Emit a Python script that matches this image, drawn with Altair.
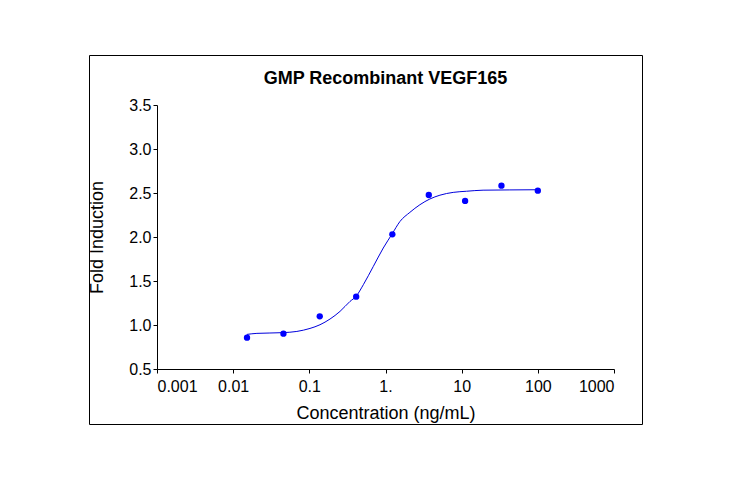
import math
import altair as alt
import pandas as pd

# Measured data points (3-fold dilution series)
conc = [0.0152, 0.0457, 0.137, 0.412, 1.23, 3.70, 11.1, 33.3, 100.0]
fold = [0.856, 0.901, 1.099, 1.322, 2.030, 2.477, 2.410, 2.583, 2.526]

# Fitted curve
curve_conc = [0.0151, 0.0205, 0.0449, 0.0686, 0.102, 0.138, 0.187, 0.253, 0.342,
              0.410, 0.512, 0.692, 0.935, 1.22, 1.55, 2.09, 2.83, 3.83, 5.18,
              7.74, 11.6, 19.1, 42.9, 100.0]
curve_fold = [0.893, 0.905, 0.913, 0.927, 0.961, 1.003, 1.068, 1.155, 1.268,
              1.325, 1.458, 1.666, 1.875, 2.034, 2.177, 2.280, 2.367, 2.432, 2.475,
              2.507, 2.520, 2.532, 2.535, 2.537]

x_ticks = [0.001, 0.01, 0.1, 1, 10, 100, 1000]
x_tick_labels = ["0.001", "0.01", "0.1", "1.", "10", "100", "1000"]
y_ticks = [0.5, 1.0, 1.5, 2.0, 2.5, 3.0, 3.5]

FONT = "Liberation Sans"

pts = pd.DataFrame({"conc": conc, "fold": fold})
crv = pd.DataFrame({"conc": curve_conc, "fold": curve_fold})

label_expr = " : ".join(
    f"abs(log(datum.value)/LN10-({math.log10(v)}))<0.01 ? '{lab}'"
    for v, lab in zip(x_ticks, x_tick_labels)
) + " : ''"

x_enc = alt.X(
    "conc:Q",
    scale=alt.Scale(type="log", domain=[0.001, 1000], nice=False),
    axis=alt.Axis(
        values=x_ticks,
        labelExpr=label_expr,
        title="Concentration (ng/mL)",
        grid=False,
        tickSize=4,
        labelPadding=5,
        titlePadding=10,
    ),
)
y_enc = alt.Y(
    "fold:Q",
    scale=alt.Scale(domain=[0.5, 3.5], nice=False, zero=False),
    axis=alt.Axis(
        values=y_ticks,
        format=".1f",
        title="Fold Induction",
        grid=False,
        tickSize=4,
        labelPadding=2,
        titlePadding=22,
    ),
)

line = alt.Chart(crv).mark_line(
    color="#0000dd", strokeWidth=1, interpolate="monotone"
).encode(x=x_enc, y=y_enc)

points = alt.Chart(pts).mark_circle(
    color="#0000ff", opacity=1, size=40
).encode(x="conc:Q", y="fold:Q")

frame = alt.Chart(pd.DataFrame({"f": [0]})).mark_rect(
    fill=None, stroke="black", strokeWidth=1
).encode(
    x=alt.value(-67.5), x2=alt.value(485.5),
    y=alt.value(-49.5), y2=alt.value(319.5),
)

chart = alt.layer(frame, line, points).properties(
    width=457,
    height=264,
    background="white",
    title=alt.TitleParams(
        "GMP Recombinant VEGF165",
        font=FONT, fontSize=18, fontWeight="bold", color="black",
        anchor="middle", offset=-33,
    ),
    autosize=alt.AutoSizeParams(type="none"),
    padding={"left": 149, "top": 97, "right": 100, "bottom": 90},
).configure_view(
    stroke=None
).configure_axis(
    labelFont=FONT, titleFont=FONT,
    labelFontSize=16, titleFontSize=18,
    titleFontWeight="normal",
    labelColor="black", titleColor="black",
    domainColor="black", tickColor="black",
)

chart.save("out.html", embed_options={"renderer": "svg", "actions": False})
